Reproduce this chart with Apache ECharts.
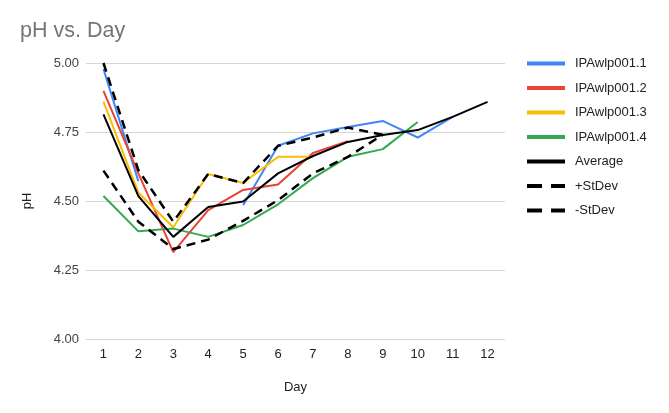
<!DOCTYPE html>
<html>
<head>
<meta charset="utf-8">
<script src="https://cdn.jsdelivr.net/npm/echarts@6/dist/echarts.min.js"></script>
<style>html,body{margin:0;padding:0;background:#fff}#c{width:669px;height:413px}</style>
</head>
<body>
<div id="c"></div>
<script>
const days = ['1','2','3','4','5','6','7','8','9','10','11','12'];
const yTicks = [4.00, 4.25, 4.50, 4.75, 5.00];
const s1 = [4.978, 4.572, null, null, 4.485, 4.700, 4.745, 4.768, 4.790, 4.730, 4.805, null];
const s2 = [4.899, 4.600, 4.315, 4.467, 4.540, 4.560, 4.674, 4.717, null, null, null, null];
const s3 = [4.860, 4.530, 4.405, 4.598, 4.565, 4.660, 4.660, null, null, null, null, null];
const s4 = [4.518, 4.390, 4.400, 4.370, 4.413, 4.488, 4.583, 4.660, 4.688, 4.786, null, null];
const avg = [4.814, 4.518, 4.370, 4.478, 4.498, 4.600, 4.663, 4.714, 4.739, 4.757, 4.805, 4.859];
const plusSd = [5.000, 4.612, 4.425, 4.598, 4.565, 4.700, 4.730, 4.766, 4.740, null, null, null];
const minusSd = [4.610, 4.425, 4.326, 4.360, 4.428, 4.503, 4.600, 4.660, 4.740, null, null, null];
const names = ['IPAwlp001.1','IPAwlp001.2','IPAwlp001.3','IPAwlp001.4','Average','+StDev','-StDev'];
const colors = ['#4285F4','#EA4335','#FBBC04','#34A853','#000000','#000000','#000000'];
const datas = [s1, s2, s3, s4, avg, plusSd, minusSd];
const FONT = 'Liberation Sans, Arial, sans-serif';

const chart = echarts.init(document.getElementById('c'), null, {renderer: 'canvas'});
const series = datas.map((d, i) => ({
  name: names[i],
  type: 'line',
  data: d,
  symbol: 'none',
  showSymbol: false,
  connectNulls: false,
  animation: false,
  lineStyle: {color: colors[i], width: i >= 5 ? 2.5 : 2, type: i >= 5 ? [9, 6] : 'solid'},
  itemStyle: {color: colors[i]}
}));

const dashIcon = 'path://M0,0h15v4h-15z M24,0h14v4h-14z';
chart.setOption({
  animation: false,
  title: {
    text: 'pH vs. Day', left: 20, top: 20, padding: 0,
    textStyle: {fontFamily: FONT, fontSize: 21.5, fontWeight: 'normal', color: '#757575'}
  },
  legend: {
    orient: 'vertical', left: 527, top: 56, padding: 0,
    itemWidth: 38, itemHeight: 4, itemGap: 9.5,
    data: names.map((n, i) => ({name: n, icon: i >= 5 ? dashIcon : 'rect', itemStyle: {color: colors[i]}})),
    textStyle: {fontFamily: FONT, fontSize: 13, color: '#222', padding: [0, 0, 0, 5], lineHeight: 15}
  },
  grid: {left: 86, right: 164, top: 63, bottom: 74, containLabel: false},
  xAxis: {
    type: 'category', data: days, boundaryGap: true,
    name: 'Day', nameLocation: 'middle', nameGap: 42,
    nameTextStyle: {fontFamily: FONT, fontSize: 13, color: '#222'},
    axisLine: {show: false}, axisTick: {show: false},
    axisLabel: {fontFamily: FONT, fontSize: 13, color: '#222', margin: 9}
  },
  yAxis: {
    type: 'value', min: yTicks[0], max: yTicks[yTicks.length - 1], interval: 0.25,
    name: 'pH', nameLocation: 'middle', nameGap: 52, nameRotate: 90,
    nameTextStyle: {fontFamily: FONT, fontSize: 13, color: '#222'},
    axisLine: {show: false}, axisTick: {show: false},
    axisLabel: {fontFamily: FONT, fontSize: 13, color: '#444', margin: 7,
      formatter: v => v.toFixed(2)},
    splitLine: {lineStyle: {color: '#d6d6d6', width: 1}}
  },
  series: series
});
</script>
</body>
</html>
